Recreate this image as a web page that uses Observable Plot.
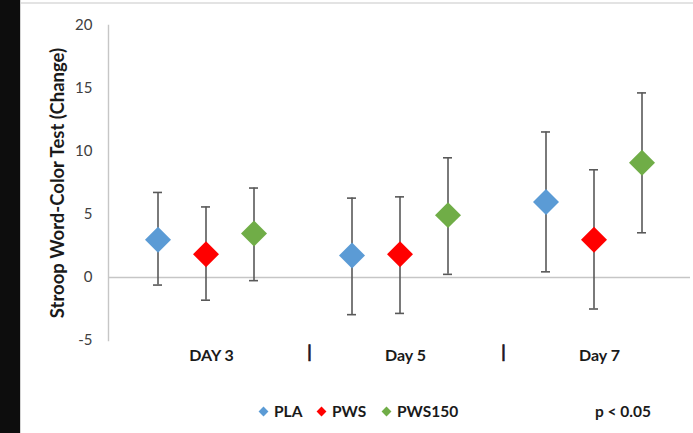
<!DOCTYPE html>
<html>
<head>
<meta charset="utf-8">
<script src="https://cdn.jsdelivr.net/npm/d3@7"></script>
<script src="https://cdn.jsdelivr.net/npm/@observablehq/plot@0.6"></script>
<style>
  html, body { margin: 0; padding: 0; background: #fff; }
  body { width: 693px; height: 433px; position: relative; overflow: hidden; font-family: Lato, "Open Sans", sans-serif; }
  #strip { position: absolute; left: 0; top: 0; width: 20px; height: 433px; background: #0d0d0d; }
  #edge { position: absolute; left: 20px; top: 0; width: 1px; height: 433px; background: #d4d4d4; }
  #topline { position: absolute; left: 21px; top: 2px; right: 0; height: 2px; background: #e3e3e3; }
  #chart { position: absolute; left: 21px; top: 0; }
  #legend { position: absolute; left: 0; top: 401px; width: 693px; height: 20px; font-weight: bold; font-size: 15.5px; color: #1a1a1a; }
  .item { position: absolute; top: 0; display: flex; align-items: center; height: 20px; white-space: nowrap; }
  .sw { width: 7px; height: 7px; transform: rotate(45deg); margin-right: 7px; }
</style>
</head>
<body>
<div id="strip"></div>
<div id="edge"></div>
<div id="topline"></div>
<div id="chart"></div>
<div id="legend"></div>
<script>
const days = ["DAY 3", "Day 5", "Day 7"];
const groups = ["PLA", "PWS", "PWS150"];
const colors = ["#5b9bd5", "#ff0000", "#70ad47"];
const yTicks = [-5, 0, 5, 10, 15, 20];
const yTitle = "Stroop Word-Color Test (Change)";
const separatorsBefore = ["Day 5", "Day 7"];
const pNote = "p < 0.05";

// means per group, one value per day
const meanPLA = [3.0, 1.75, 6.0];
const meanPWS = [1.85, 1.85, 3.0];
const meanPWS150 = [3.5, 4.95, 9.1];
// error bar lower ends
const loPLA = [-0.6, -2.95, 0.45];
const loPWS = [-1.8, -2.85, -2.5];
const loPWS150 = [-0.25, 0.25, 3.55];
// error bar upper ends
const hiPLA = [6.75, 6.3, 11.55];
const hiPWS = [5.6, 6.4, 8.55];
const hiPWS150 = [7.1, 9.5, 14.65];

const means = [meanPLA, meanPWS, meanPWS150];
const los = [loPLA, loPWS, loPWS150];
const his = [hiPLA, hiPWS, hiPWS150];

const table = [];
days.forEach((day, di) => {
  groups.forEach((g, gi) => {
    table.push({day, group: g, mean: means[gi][di], lo: los[gi][di], hi: his[gi][di]});
  });
});

const errStroke = "#595959";
const chart = Plot.plot({
  width: 672,
  height: 378,
  marginLeft: 86,
  marginRight: 3,
  marginTop: 25,
  marginBottom: 38,
  style: {fontFamily: "Lato, 'Open Sans', sans-serif", fontSize: "15px", color: "#404040", background: "transparent"},
  x: {type: "band", domain: groups, paddingInner: 0.816, paddingOuter: 0.891, axis: null},
  fx: {domain: days, padding: 0, label: null},
  y: {domain: [-5, 20]},
  color: {domain: groups, range: colors},
  marks: [
    Plot.ruleY([0], {stroke: "#c6c6c6", strokeWidth: 1.4}),
    Plot.frame({anchor: "left", stroke: "#c6c6c6", strokeWidth: 1.4, fx: () => days[0]}),
    Plot.ruleX(table, {fx: "day", x: "group", y1: "lo", y2: "hi", stroke: errStroke, strokeWidth: 1.6}),
    Plot.tickY(table, {fx: "day", x: "group", y: "lo", stroke: errStroke, strokeWidth: 1.6}),
    Plot.tickY(table, {fx: "day", x: "group", y: "hi", stroke: errStroke, strokeWidth: 1.6}),
    Plot.dot(table, {fx: "day", x: "group", y: "mean", symbol: "diamond2", r: 11.7, fill: "group", stroke: "none"}),
    Plot.axisY({ticks: yTicks, tickFormat: d => String(d), tickSize: 0, tickPadding: 16, fontSize: 15, label: null, fill: "#404040"}),
    Plot.axisFx({anchor: "bottom", tickSize: 0, tickPadding: 9, fontSize: 16, fontWeight: "bold", fill: "#1a1a1a", label: null, dx: 6}),
    Plot.text(separatorsBefore, {fx: d => d, frameAnchor: "bottom-left", textAnchor: "middle", text: () => "|", dy: 17, dx: 7, fontSize: 17, fontWeight: "bold", fill: "#1a1a1a", stroke: "#1a1a1a", strokeWidth: 0.6}),
    Plot.text([yTitle], {fx: () => days[0], frameAnchor: "left", textAnchor: "middle", rotate: -90, dx: -50, fontSize: 18.5, fontWeight: "bold", fill: "#1a1a1a", text: d => d})
  ]
});
document.getElementById("chart").appendChild(chart);

// legend
const legend = document.getElementById("legend");
const legendLefts = [260, 318, 383];
groups.forEach((g, i) => {
  const it = document.createElement("div");
  it.className = "item";
  it.style.left = legendLefts[i] + "px";
  const sw = document.createElement("span");
  sw.className = "sw";
  sw.style.background = colors[i];
  const t = document.createElement("span");
  t.textContent = g;
  it.appendChild(sw); it.appendChild(t);
  legend.appendChild(it);
});
const p = document.createElement("div");
p.className = "item";
p.style.left = "595px";
p.textContent = pNote;
legend.appendChild(p);
</script>
</body>
</html>
